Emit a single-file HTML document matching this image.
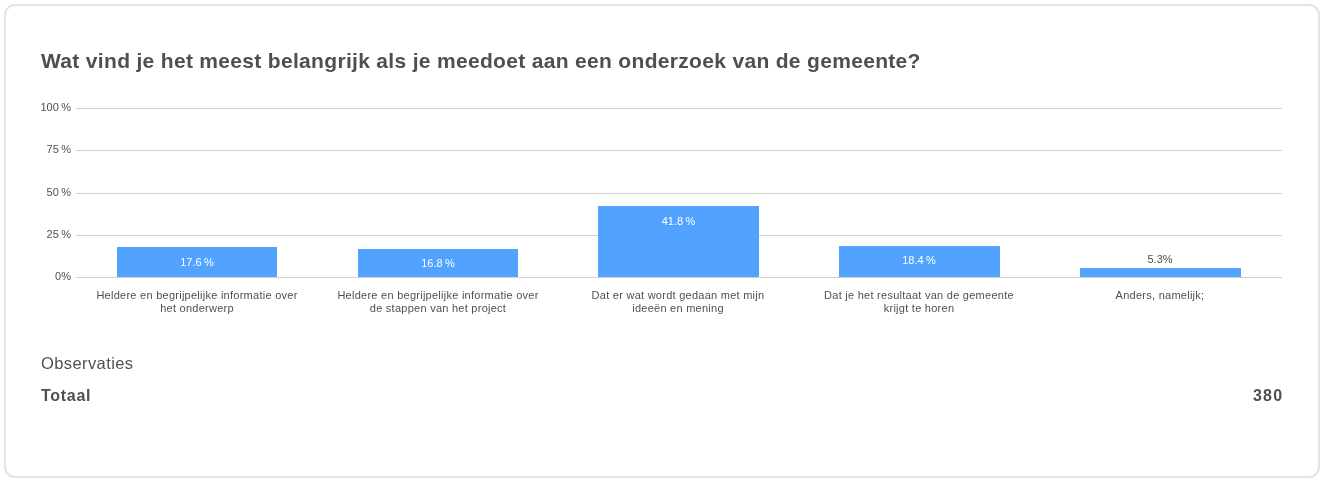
<!DOCTYPE html>
<html><head><meta charset="utf-8">
<style>
*{margin:0;padding:0;box-sizing:border-box}
html,body{width:1325px;height:483px;background:#fff;overflow:hidden;font-family:"Liberation Sans",sans-serif}
.card{position:absolute;left:4px;top:4px;width:1316px;height:474px;border:2px solid #e3e4e6;border-radius:11px;background:#fff}
.ts{display:inline-block;width:2.4px}
.t{position:absolute;white-space:nowrap;line-height:1}
.title{left:41px;top:50px;font-size:21px;font-weight:bold;color:#4c4f53;letter-spacing:0.32px}
.yl{position:absolute;right:1254px;font-size:11px;line-height:1;color:#4e5052;text-align:right;white-space:nowrap}
.gl{position:absolute;left:76px;width:1206px;height:1px;background:#d2d2d2}
.bar{position:absolute;background:#52a2ff;width:160px}
.bl{position:absolute;width:160px;text-align:center;font-size:11px;line-height:1;color:#fff;white-space:nowrap;letter-spacing:0}
.cl{position:absolute;width:260px;text-align:center;font-size:11px;line-height:12.5px;color:#4e5052;letter-spacing:0.26px}
.obs{left:41px;top:355px;font-size:16.5px;color:#4f5255;letter-spacing:0.4px}
.tot{left:41px;top:388px;font-size:16px;font-weight:bold;color:#4c4f53;letter-spacing:0.7px}
.num{right:41.5px;top:388px;font-size:16px;font-weight:bold;color:#4c4f53;letter-spacing:1.3px}
</style></head><body><div id="w" style="position:absolute;left:0;top:0;width:1325px;height:483px;will-change:transform">
<div class="card"></div>
<div class="t title">Wat vind je het meest belangrijk als je meedoet aan een onderzoek van de gemeente?</div>

<div class="gl" style="top:108px"></div>
<div class="gl" style="top:150px"></div>
<div class="gl" style="top:193px"></div>
<div class="gl" style="top:235px"></div>
<div class="gl" style="top:277px"></div>

<div class="yl" style="top:102px">100<i class="ts"></i>%</div>
<div class="yl" style="top:144px">75<i class="ts"></i>%</div>
<div class="yl" style="top:187px">50<i class="ts"></i>%</div>
<div class="yl" style="top:229px">25<i class="ts"></i>%</div>
<div class="yl" style="top:271px">0%</div>

<div class="bar" style="left:117px;top:247px;height:30px"></div>
<div class="bar" style="left:358px;top:249px;height:28px"></div>
<div class="bar" style="left:598px;top:206px;height:71px;width:161px"></div>
<div class="bar" style="left:839px;top:246px;height:31px;width:161px"></div>
<div class="bar" style="left:1080px;top:268px;height:9px;width:161px"></div>

<div class="bl" style="left:117px;top:257px">17.6<i class="ts"></i>%</div>
<div class="bl" style="left:358px;top:258px">16.8<i class="ts"></i>%</div>
<div class="bl" style="left:598.5px;top:216px">41.8<i class="ts"></i>%</div>
<div class="bl" style="left:839px;top:255px">18.4<i class="ts"></i>%</div>
<div class="bl" style="left:1080px;top:254px;color:#4e5052">5.3%</div>

<div class="cl" style="left:67px;top:289px">Heldere en begrijpelijke informatie over<br>het onderwerp</div>
<div class="cl" style="left:308px;top:289px">Heldere en begrijpelijke informatie over<br>de stappen van het project</div>
<div class="cl" style="left:548px;top:289px">Dat er wat wordt gedaan met mijn<br>ideeën en mening</div>
<div class="cl" style="left:789px;top:289px">Dat je het resultaat van de gemeente<br>krijgt te horen</div>
<div class="cl" style="left:1030px;top:289px">Anders, namelijk;</div>

<div class="t obs">Observaties</div>
<div class="t tot">Totaal</div>
<div class="t num">380</div>
</div></body></html>
